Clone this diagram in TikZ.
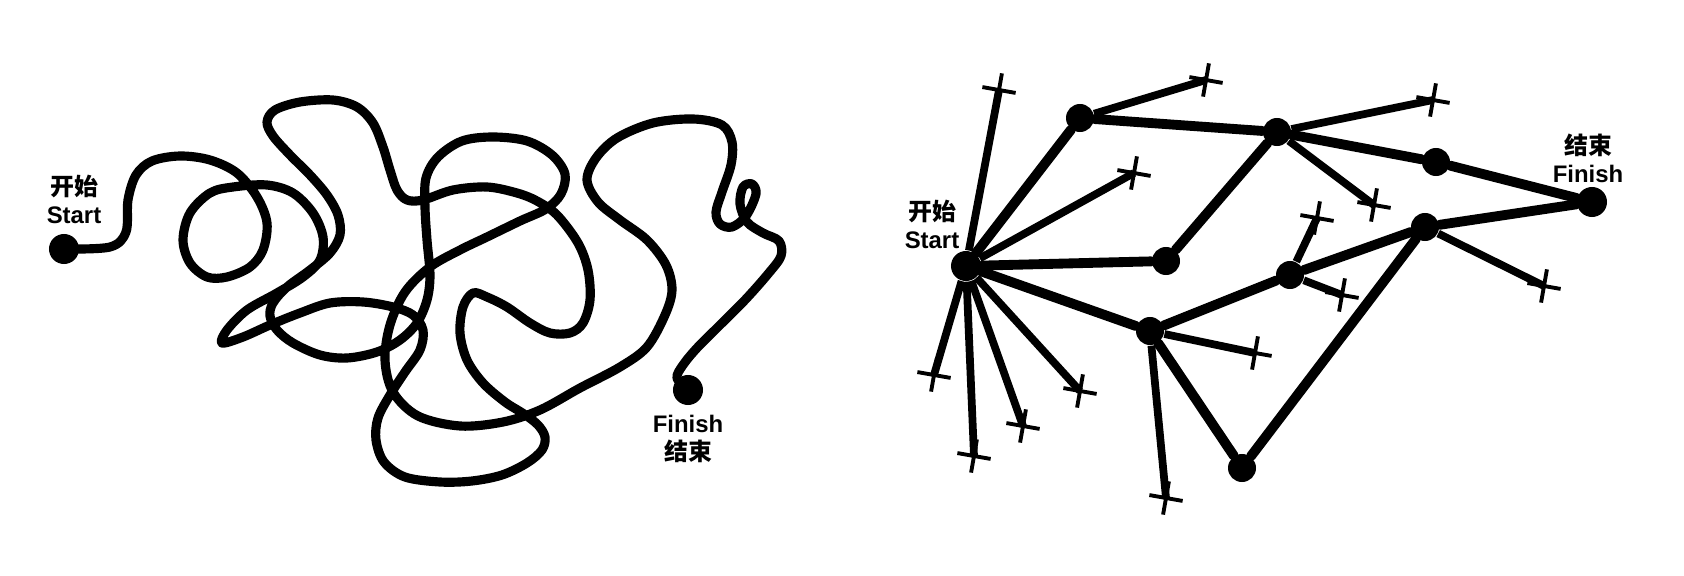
\documentclass[tikz,border=0pt]{standalone}
\usepackage{fontspec}
\setmainfont{Liberation Sans}
\newfontfamily\cjk{Noto Sans CJK SC}
\usetikzlibrary{shapes.misc}

\begin{document}
\begin{tikzpicture}[x=0.01cm, y=-0.01cm,
        dot/.style={circle, fill, inner sep=0pt, minimum size=0.3cm},
        knot/.style={circle, fill, inner sep=0pt, minimum size=0.28cm},
        endmark/.style={cross out, draw, line width=1.1pt, minimum size=0.2cm, inner sep=0pt, rotate=35},
        lbl/.style={align=center, font=\fontsize{6.8}{8}\selectfont\bfseries},
        route/.style={line width=2.8pt, line cap=round},
        dead/.style={line width=2.2pt},
        tangle/.style={line width=2.6pt, line cap=round, line join=round}]
        \useasboundingbox (0,0) rectangle (1684,576);

        % left: the tangled way
        \node[dot] (startL) at (64,249) {};
        \node[dot] (finishL) at (688,390) {};
        \node[lbl] (startLlbl) at (74,199) {{\cjk 开始}\\Start};
        \node[lbl] (finishLlbl) at (688,439) {Finish\\{\cjk 结束}};

        \draw[tangle] plot[smooth, tension=0.55] coordinates {(startL.center)
            (110,247) (126,232) (128,200) (136,175) (152,161) (180,156) (210,160)
            (237,173) (257,197) (267,223) (263,250) (250,267) (227,277) (207,277)
            (190,263) (183,240) (190,213) (210,193) (233,187) (267,185) (293,193)
            (313,213) (323,237) (320,260) (303,277) (277,293) (247,310) (227,330)
            (222,343) (243,337) (270,325) (300,313) (330,303) (363,302) (393,307)
            (413,315) (423,330) (420,350) (405,372) (390,395) (378,418) (376,440)
            (384,462) (405,477) (440,482) (472,481) (502,475) (527,463) (542,450)
            (545,437) (538,425) (524,414) (505,402) (483,383) (467,360) (460,333)
            (463,307) (473,293) (487,297) (507,307) (530,323) (550,333) (570,333)
            (583,323) (590,300) (588,270) (578,243) (557,215) (537,201) (517,193)
            (487,187) (453,190) (423,200) (407,200) (397,190) (390,170) (383,147)
            (373,123) (357,107) (333,100) (300,102) (275,110) (267,122) (273,136)
            (290,155) (310,175) (327,195) (338,215) (340,235) (330,253) (310,270)
            (287,287) (273,303) (270,316) (277,330) (293,343) (320,355) (347,358)
            (377,352) (400,340) (417,323) (427,300) (430,275) (427,240) (425,207)
            (426,178) (438,157) (462,141) (493,137) (527,141) (552,155) (565,174)
            (561,194) (546,209) (520,221) (487,237) (460,250) (430,267) (405,292)
            (390,325) (385,360) (393,392) (418,416) (460,426) (503,422) (540,410)
            (580,388) (620,367) (647,347) (665,315) (672,290) (666,265) (647,240)
            (620,220) (598,202) (587,180) (596,158) (617,138) (653,123) (693,119)
            (722,125) (732,142) (731,165) (722,192) (716,212) (720,224) (732,227)
            (746,216) (756,194) (752,184) (743,187) (740,204) (747,222) (763,233)
            (779,241) (781,256) (768,274) (745,300) (718,327) (697,348) (683,365)
            (677,378) (finishL.center)};

        % right: the tree of tries
        \node[dot] (start) at (966,266) {};
        \node[knot] (a) at (1080,118) {};
        \node[knot] (b) at (1277,132) {};
        \node[knot] (c) at (1436,162) {};
        \node[dot] (finish) at (1592,202) {};
        \node[knot] (d) at (1166,261) {};
        \node[knot] (e) at (1290,275) {};
        \node[knot] (f) at (1425,227) {};
        \node[knot] (g) at (1150,331) {};
        \node[knot] (h) at (1242,468) {};
        \node[lbl] (startlbl) at (932,224) {{\cjk 开始}\\Start};
        \node[lbl] (finishlbl) at (1588,158) {{\cjk 结束}\\Finish};

        \draw[route] (start) -- (a) -- (b) -- (c) -- (finish);
        \draw[route] (start) -- (d) -- (b);
        \draw[route] (start) -- (g) -- (e) -- (f) -- (finish);
        \draw[route] (g) -- (h) -- (f);

        % dead ends
        \foreach \n/\x/\y/\from in {s1/999/90/start, s2/1134/173/start, s3/934/375/start,
                s4/974/456/start, s5/1023/426/start, s6/1080/391/start,
                a1/1206/80/a, b1/1433/100/b, b2/1374/205/b, e1/1317/218/e,
                e2/1342/295/e, f1/1544/286/f, g1/1255/353/g, g2/1166/498/g} {
            \node[endmark] (\n) at (\x,\y) {};
            \draw[dead] (\from) -- (\n.center);
        }
\end{tikzpicture}
\end{document}
